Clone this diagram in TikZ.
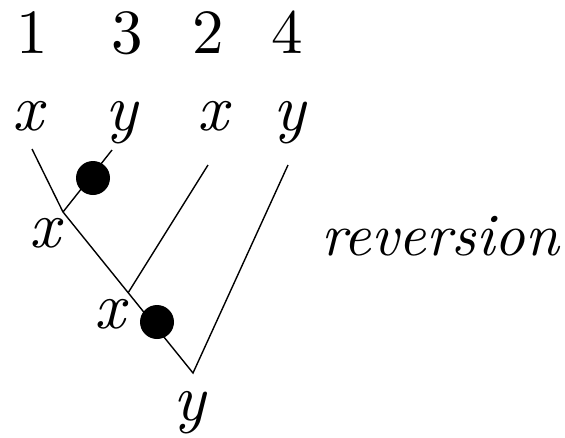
\documentclass[tikz,border=0pt]{standalone}
\usepackage{fontspec}
\setmainfont{lmroman10-regular.otf}[ItalicFont=lmroman10-italic.otf]
\begin{document}
\begin{tikzpicture}[x=1pt,y=-1pt,
  lbl/.style={anchor=base,inner sep=0pt,font=\fontsize{63}{70}\selectfont},
  ilbl/.style={lbl,font=\fontsize{66}{70}\selectfont\itshape},
  edge/.style={line width=1.4pt},
  mut/.style={circle,fill=black,inner sep=0pt,minimum size=34pt}]
\useasboundingbox (0,0) rectangle (565,437);
% numbers
\node[lbl] (n1) at (32,53) {1};
\node[lbl] (n3) at (127,53) {3};
\node[lbl] (n2) at (208,53) {2};
\node[lbl] (n4) at (287,53) {4};
% leaf states
\node[ilbl] (s1) at (28,130) {x};
\node[ilbl] (s3) at (122,130) {y};
\node[ilbl] (s2) at (213,130) {x};
\node[ilbl] (s4) at (290,130) {y};
% tree points
\coordinate (t1) at (32,149);
\coordinate (t3) at (112,150);
\coordinate (t2) at (208,165);
\coordinate (t4) at (288,165);
\coordinate (j1) at (63,212);
\coordinate (j2) at (128,293);
\coordinate (r) at (193,373);
\draw[edge] (t1) -- (j1) -- (r) -- (t4);
\draw[edge] (t3) -- (j1);
\draw[edge] (t2) -- (j2);
% mutations
\node[mut] (m1) at (93,178) {};
\node[mut] (m2) at (157,322) {};
% internal labels
\node[ilbl] (a1) at (45,247) {x};
\node[ilbl] (a2) at (110,328) {x};
\node[ilbl] (a3) at (190,420) {y};
\node[lbl,font=\fontsize{60}{70}\selectfont\itshape] (rev) at (440,255) {reversion};
\end{tikzpicture}
\end{document}
